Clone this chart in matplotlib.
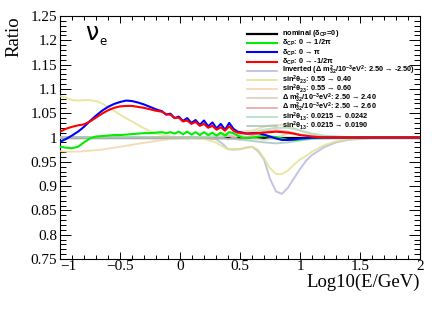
import numpy as np
import matplotlib
matplotlib.use('Agg')
import matplotlib.pyplot as plt
from matplotlib.ticker import MultipleLocator

plt.rcParams['font.family'] = ['Liberation Serif', 'DejaVu Serif']
plt.rcParams['mathtext.fontset'] = 'custom'
plt.rcParams['mathtext.rm'] = 'Liberation Sans:bold'
plt.rcParams['mathtext.it'] = 'Liberation Sans:bold'
plt.rcParams['mathtext.bf'] = 'Liberation Sans:bold'

# ---- dados ----
x_flat = [-1.0, 2.0]
y_nominal = [1.0, 1.0]

# wiggle region shared by the delta_CP curves
x_dcp = [-1.0, -0.95, -0.9, -0.85, -0.8, -0.75, -0.7, -0.65, -0.6, -0.55, -0.5, -0.45,
         -0.4, -0.35, -0.3, -0.25, -0.2,
         -0.15, -0.115, -0.08, -0.045, -0.01, 0.025, 0.06, 0.095, 0.13, 0.165, 0.2,
         0.235, 0.27, 0.305, 0.34, 0.375, 0.41, 0.445,
         0.48, 0.52, 0.56, 0.6, 0.65, 0.7, 0.75, 0.8, 0.85, 0.9, 0.95, 1.0, 1.1, 1.2, 1.5, 2.0]
y_pi = [0.991, 0.997, 1.004, 1.012, 1.022, 1.034, 1.045, 1.055, 1.063, 1.069, 1.073, 1.076,
        1.075, 1.072, 1.068, 1.063, 1.058,
        1.054, 1.047, 1.049, 1.040, 1.043, 1.034, 1.040, 1.030, 1.036, 1.026, 1.035,
        1.023, 1.031, 1.019, 1.028, 1.016, 1.030, 1.018,
        1.012, 1.010, 1.008, 1.009, 1.009, 1.006, 1.002, 0.998, 0.995, 0.995, 0.996, 0.998, 0.9995, 1.0, 1.0, 1.0]
y_mhalfpi = [1.012, 1.018, 1.022, 1.025, 1.027, 1.033, 1.041, 1.049, 1.056, 1.061, 1.064, 1.065,
             1.065, 1.063, 1.061, 1.058, 1.055,
             1.053, 1.048, 1.047, 1.040, 1.041, 1.033, 1.035, 1.028, 1.032, 1.024, 1.028,
             1.020, 1.024, 1.016, 1.021, 1.014, 1.023, 1.014,
             1.010, 1.009, 1.008, 1.008, 1.009, 1.010, 1.011, 1.012, 1.011, 1.010, 1.008, 1.005, 1.002, 1.0, 1.0, 1.0]
y_halfpi = [0.981, 0.979, 0.978, 0.981, 0.990, 0.998, 1.002, 1.003, 1.004, 1.005, 1.005, 1.006,
            1.007, 1.008, 1.009, 1.009, 1.010,
            1.011, 1.009, 1.011, 1.008, 1.012, 1.007, 1.012, 1.006, 1.011, 1.005, 1.011,
            1.005, 1.010, 1.004, 1.010, 1.004, 1.011, 1.009,
            1.004, 1.000, 0.999, 1.000, 1.002, 1.003, 1.002, 1.001, 0.998, 0.995, 0.995, 0.996, 0.999, 1.0, 1.0, 1.0]

x_inv = [-1.0, 0.0, 0.25, 0.3, 0.35, 0.4, 0.45, 0.5, 0.55, 0.6, 0.65, 0.7, 0.75, 0.8, 0.85, 0.9,
         0.95, 1.0, 1.05, 1.1, 1.2, 1.3, 1.4, 1.6, 2.0]
y_inv = [1.0, 1.0, 1.0, 0.997, 0.988, 0.976, 0.975, 0.976, 0.979, 0.981, 0.972, 0.955, 0.915, 0.889,
         0.884, 0.897, 0.916, 0.935, 0.952, 0.964, 0.980, 0.990, 0.995, 0.999, 1.0]

x_t23 = [-1.0, -0.95, -0.9, -0.85, -0.8, -0.75, -0.7, -0.65, -0.6, -0.55, -0.5, -0.45, -0.4, -0.35,
         -0.3, -0.25, -0.2, -0.1, 0.0, 0.1, 0.2, 0.3, 0.35, 0.4, 0.5, 0.55, 0.6, 0.65, 0.7, 0.75, 0.8,
         0.85, 0.9, 0.95, 1.0, 1.05, 1.1, 1.2, 1.3, 1.4, 1.6, 2.0]
y_t23_040 = [1.085, 1.082, 1.077, 1.076, 1.077, 1.077, 1.075, 1.070, 1.063, 1.055, 1.047, 1.040, 1.033, 1.026,
             1.019, 1.013, 1.008, 1.003, 1.000, 0.999, 0.997, 0.990, 0.982, 0.976, 0.976, 0.979, 0.981, 0.975,
             0.957, 0.937, 0.925, 0.925, 0.932, 0.944, 0.955, 0.962, 0.971, 0.984, 0.992, 0.996, 0.999, 1.0]
y_t23_060 = [0.972, 0.971, 0.971, 0.971, 0.972, 0.973, 0.974, 0.975, 0.977, 0.979, 0.981, 0.983, 0.985, 0.987,
             0.989, 0.991, 0.993, 0.996, 0.998, 0.999, 1.000, 1.004, 1.007, 1.010, 1.012, 1.013, 1.014, 1.018,
             1.022, 1.025, 1.026, 1.026, 1.023, 1.019, 1.014, 1.010, 1.007, 1.003, 1.001, 1.0, 1.0, 1.0]

x_dm = [-1.0, 0.0, 0.1, 0.2, 0.3, 0.4, 0.5, 0.6, 0.7, 0.8, 0.9, 1.0, 1.1, 1.2, 1.3, 2.0]
y_dm_240 = [1.0, 1.001, 0.999, 1.001, 1.003, 0.996, 1.004, 0.999, 0.995, 1.000, 1.008, 1.006, 1.003, 1.001, 1.0, 1.0]
y_dm_260 = [1.0, 0.999, 1.001, 0.999, 0.997, 1.004, 0.996, 1.004, 1.012, 1.015, 1.012, 1.006, 1.002, 1.001, 1.0, 1.0]

x_t13 = [-1.0, 0.0, 0.3, 0.5, 0.6, 0.7, 0.8, 0.9, 1.0, 1.1, 1.2, 1.4, 2.0]
y_t13_0242 = [1.0, 1.0, 1.002, 1.006, 1.010, 1.016, 1.020, 1.020, 1.015, 1.008, 1.004, 1.001, 1.0]
y_t13_0190 = [1.0, 1.0, 0.999, 0.996, 0.993, 0.990, 0.988, 0.990, 0.994, 0.997, 0.998, 1.0, 1.0]

# (x, y, cor, espessura, legenda)
series = [
    (x_flat, y_nominal, 'black', 1.6, 'nominal ($\\delta_{CP}$=0)'),
    (x_dcp, y_halfpi, '#00ee00', 1.5, '$\\delta_{CP}$: 0 → 1/2π'),
    (x_dcp, y_pi, '#0000ff', 1.5, '$\\delta_{CP}$: 0 → π'),
    (x_dcp, y_mhalfpi, '#ff0000', 1.5, '$\\delta_{CP}$: 0 → -1/2π'),
    (x_inv, y_inv, '#b4b4dc', 1.1, 'Inverted (Δ m$^{2}_{32}$/10$^{-3}$eV$^{2}$: 2.50 → -2.50)'),
    (x_t23, y_t23_040, '#e2e28c', 1.1, 'sin$^{2}$θ$_{23}$: 0.55 → 0.40'),
    (x_t23, y_t23_060, '#f4d2a8', 1.1, 'sin$^{2}$θ$_{23}$: 0.55 → 0.60'),
    (x_dm, y_dm_240, '#dccbb9', 1.1, 'Δ m$^{2}_{32}$/10$^{-3}$eV$^{2}$: 2.50 → 2.40'),
    (x_dm, y_dm_260, '#ee9898', 1.1, 'Δ m$^{2}_{32}$/10$^{-3}$eV$^{2}$: 2.50 → 2.60'),
    (x_t13, y_t13_0242, '#a6dcc0', 1.1, 'sin$^{2}$θ$_{13}$: 0.0215 → 0.0242'),
    (x_t13, y_t13_0190, '#a2c4b6', 1.1, 'sin$^{2}$θ$_{13}$: 0.0215 → 0.0190'),
]

fig = plt.figure(figsize=(4.32, 3.09), dpi=100)
ax = fig.add_axes([0.1389, 0.1618, 0.8333, 0.7864])

zorders = [2, 6, 7, 8, 3, 3, 3, 3, 3, 3, 3]
for (xs, ys, cor, lw, lab), z in zip(series, zorders):
    pale = lw < 1.3
    ax.plot(xs, ys, color=cor, lw=1.4 if pale else lw, zorder=z, alpha=0.8 if pale else 1.0)

# legenda desenhada linha a linha (espacamento fixo como no ROOT)
for i, (xs, ys, cor, lw, lab) in enumerate(series):
    yy = 0.926 - i * 0.0379
    ax.plot([0.519, 0.603], [yy, yy], color=cor, lw=lw, transform=ax.transAxes, zorder=9)
    ax.text(0.617, yy, lab, transform=ax.transAxes, fontsize=5.3, va='center', ha='left',
            family='Liberation Sans', weight='bold', zorder=9)

ax.set_xlim(-1, 2)
ax.set_ylim(0.75, 1.25)
ax.xaxis.set_minor_locator(MultipleLocator(0.1))
ax.yaxis.set_minor_locator(MultipleLocator(0.01))
ax.set_xticks([-1, -0.5, 0, 0.5, 1, 1.5, 2])
ax.set_xticklabels(['\u22121', '\u22120.5', '0', '0.5', '1', '1.5', '2'])
ax.set_yticks([0.75, 0.8, 0.85, 0.9, 0.95, 1.0, 1.05, 1.1, 1.15, 1.2, 1.25])
ax.set_yticklabels(['0.75', '0.8', '0.85', '0.9', '0.95', '1', '1.05', '1.1', '1.15', '1.2', '1.25'])
ax.tick_params(axis='both', which='both', direction='in', top=True, right=True, labelsize=11, width=0.7)
ax.tick_params(axis='x', which='major', length=5, pad=1)
ax.tick_params(axis='x', which='minor', length=2.8)
ax.tick_params(axis='y', which='major', length=8, pad=2)
ax.tick_params(axis='y', which='minor', length=4.3)
ax.get_xticklabels()[0].set_ha('left')
for s in ax.spines.values():
    s.set_linewidth(0.8)

ax.set_ylabel('Ratio', fontsize=13.5, loc='top', labelpad=6)
ax.set_xlabel('Log10(E/GeV)', fontsize=13.5, loc='right', labelpad=0)

ax.text(-0.79, 1.215, 'ν', fontsize=17, family='DejaVu Sans', ha='left', va='center')
ax.text(-0.672, 1.198, 'e', fontsize=8.5, family='DejaVu Sans', ha='left', va='center')

fig.savefig('out.png', dpi=100)
